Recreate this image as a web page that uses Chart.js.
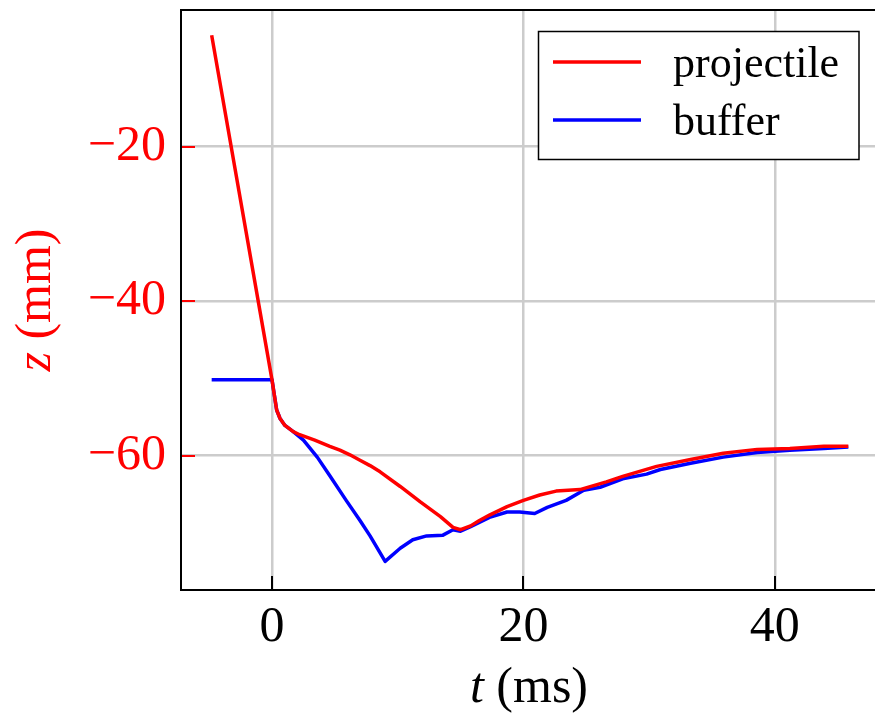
<!DOCTYPE html>
<html lang="en">
<head>
  <meta charset="UTF-8">
  <title>z(t): projectile and buffer</title>
  <script src="https://cdn.jsdelivr.net/npm/chart.js@4.4.7/dist/chart.umd.min.js"></script>
  <style>
    * { margin: 0; padding: 0; box-sizing: border-box; }
    html, body { background: #fff; overflow: hidden; width: 875px; height: 718px; }
    canvas { display: block; }
  </style>
</head>
<body>
  <canvas id="zChart" width="890" height="718"></canvas>

  <script>
    // time (ms) and position z (mm)
    const tProjectile = [-4.8, 0, 0.16, 0.37, 0.64, 1.03, 1.69, 2.2, 3.4, 4.6, 5.4, 6.2, 7.0, 7.8, 8.6, 10.2, 11.8, 13.4, 14.4, 15.0, 15.8, 16.5, 17.3, 18.7, 20.0, 21.3, 22.6, 24.5, 26.6, 27.9, 30.6, 33.3, 35.9, 38.6, 41.2, 43.9, 45.85];
    const zProjectile = [-5.6, -50.2, -51.9, -54.1, -55.2, -56.1, -56.9, -57.3, -58.0, -58.8, -59.3, -59.9, -60.6, -61.3, -62.1, -64.0, -66.0, -67.9, -69.3, -69.6, -69.1, -68.4, -67.7, -66.6, -65.8, -65.1, -64.6, -64.4, -63.4, -62.7, -61.4, -60.5, -59.7, -59.2, -59.1, -58.8, -58.8];

    const tBuffer = [-4.8, 0, 0.16, 0.37, 0.64, 1.03, 1.69, 2.5, 3.6, 4.6, 5.9, 7.0, 7.8, 9.0, 10.2, 11.2, 12.3, 13.6, 14.4, 15.0, 15.8, 17.3, 18.7, 19.7, 20.9, 21.9, 23.4, 24.8, 26.1, 27.9, 29.8, 30.9, 33.3, 35.9, 38.6, 41.2, 43.9, 45.85];
    const zBuffer = [-50.2, -50.2, -51.9, -54.1, -55.2, -56.1, -56.9, -58.0, -60.2, -62.6, -65.8, -68.4, -70.4, -73.7, -72.0, -70.9, -70.4, -70.3, -69.6, -69.8, -69.2, -68.0, -67.3, -67.3, -67.5, -66.7, -65.8, -64.5, -64.1, -63.0, -62.4, -61.8, -61.0, -60.2, -59.6, -59.3, -59.1, -58.9];

    const xTicks = [0, 20, 40];
    const yTicks = [-20, -40, -60];

    const RED = '#ff0000';
    const BLUE = '#0000ff';
    const SERIF = '"Liberation Serif", "DejaVu Serif", serif';

    const toPoints = (ts, zs) => ts.map((t, i) => ({ x: t, y: zs[i] }));
    const minusLabel = v => (v < 0 ? '\u2212' + Math.abs(v) : String(v));

    // frame, inward ticks, axis titles and the boxed legend
    const decorations = {
      id: 'decorations',
      afterDraw(chart) {
        const { ctx, chartArea: a, scales } = chart;
        ctx.save();

        ctx.lineWidth = 2;
        ctx.strokeStyle = RED;
        yTicks.forEach(v => {
          const y = Math.round(scales.y.getPixelForValue(v));
          ctx.beginPath();
          ctx.moveTo(a.left, y);
          ctx.lineTo(a.left + 14, y);
          ctx.stroke();
        });
        ctx.strokeStyle = '#000';
        xTicks.forEach(v => {
          const x = Math.round(scales.x.getPixelForValue(v));
          ctx.beginPath();
          ctx.moveTo(x, a.bottom);
          ctx.lineTo(x, a.bottom - 14);
          ctx.stroke();
        });

        ctx.strokeRect(a.left, a.top, a.right - a.left, a.bottom - a.top);

        // x title: italic t + (ms)
        ctx.fillStyle = '#000';
        ctx.textBaseline = 'alphabetic';
        ctx.textAlign = 'left';
        const it = 'italic 50px ' + SERIF;
        const up = '50px ' + SERIF;
        ctx.font = it;
        const wt = ctx.measureText('t').width;
        ctx.font = up;
        const wms = ctx.measureText(' (ms)').width;
        let x0 = 529 - (wt + wms) / 2;
        ctx.font = it;
        ctx.fillText('t', x0, 702);
        ctx.font = up;
        ctx.fillText(' (ms)', x0 + wt, 702);

        // y title, rotated
        ctx.save();
        ctx.translate(50, (a.top + a.bottom) / 2);
        ctx.rotate(-Math.PI / 2);
        ctx.fillStyle = RED;
        ctx.font = it;
        const wz = ctx.measureText('z').width;
        ctx.font = up;
        const wmm = ctx.measureText(' (mm)').width;
        x0 = -(wz + wmm) / 2;
        ctx.font = it;
        ctx.fillText('z', x0, 0);
        ctx.font = up;
        ctx.fillText(' (mm)', x0 + wz, 0);
        ctx.restore();

        // legend
        ctx.fillStyle = '#fff';
        ctx.fillRect(538.5, 31.5, 320.5, 128);
        ctx.lineWidth = 1.5;
        ctx.strokeStyle = '#000';
        ctx.strokeRect(538.5, 31.5, 320.5, 128);
        ctx.font = '44px ' + SERIF;
        ctx.fillStyle = '#000';
        chart.data.datasets.forEach((ds, i) => {
          const y = 62 + i * 58;
          ctx.strokeStyle = ds.borderColor;
          ctx.lineWidth = 3.5;
          ctx.beginPath();
          ctx.moveTo(553, y);
          ctx.lineTo(641, y);
          ctx.stroke();
          ctx.fillText(ds.label, 673, y + 15);
        });

        ctx.restore();
      }
    };

    const ctx = document.getElementById('zChart').getContext('2d');

    new Chart(ctx, {
      type: 'scatter',
      data: {
        datasets: [
          {
            label: 'projectile',
            data: toPoints(tProjectile, zProjectile),
            borderColor: RED,
            backgroundColor: RED,
            borderWidth: 3.5,
            showLine: true,
            pointRadius: 0,
            tension: 0,
            borderJoinStyle: 'round',
          },
          {
            label: 'buffer',
            data: toPoints(tBuffer, zBuffer),
            borderColor: BLUE,
            backgroundColor: BLUE,
            borderWidth: 3.5,
            showLine: true,
            pointRadius: 0,
            tension: 0,
            borderJoinStyle: 'round',
          }
        ]
      },
      options: {
        responsive: false,
        animation: false,
        devicePixelRatio: 1,
        layout: { padding: { top: 10, right: 10, left: 0, bottom: 0 } },
        plugins: {
          legend: { display: false },
          tooltip: { enabled: false }
        },
        scales: {
          x: {
            type: 'linear',
            position: 'bottom',
            min: -7.24,
            max: 48.37,
            afterBuildTicks: scale => { scale.ticks = xTicks.map(v => ({ value: v })); },
            afterFit: scale => {
              scale.height = 128;
              scale.paddingLeft = 0;
              scale.paddingRight = 0;
            },
            ticks: {
              color: '#000',
              font: { family: SERIF, size: 50 },
              padding: 8,
              maxRotation: 0,
              callback: minusLabel
            },
            grid: { color: '#cccccc', lineWidth: 2.5, drawTicks: false },
            border: { display: false }
          },
          y: {
            type: 'linear',
            min: -77.4,
            max: -2.33,
            afterBuildTicks: scale => { scale.ticks = yTicks.map(v => ({ value: v })); },
            afterFit: scale => {
              scale.width = 181;
              scale.paddingTop = 0;
              scale.paddingBottom = 0;
            },
            ticks: {
              color: RED,
              font: { family: SERIF, size: 50 },
              padding: 15,
              callback: minusLabel
            },
            grid: { color: '#cccccc', lineWidth: 2.5, drawTicks: false },
            border: { display: false }
          }
        }
      },
      plugins: [decorations]
    });
  </script>
</body>
</html>
